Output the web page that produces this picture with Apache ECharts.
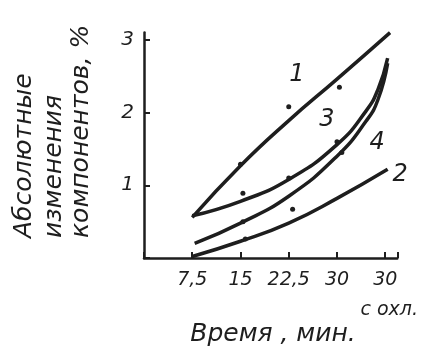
<!DOCTYPE html>
<html><head><meta charset="utf-8">
<script src="https://cdn.jsdelivr.net/npm/echarts@6/dist/echarts.min.js"></script>
<style>html,body{margin:0;padding:0;background:#fff}#c{width:422px;height:356px}</style>
</head><body><div id="c"></div>
<script>
var xTickLabels = ['', '7,5', '15', '22,5', '30', '30'];
var curve1 = [[1,0.56],[2,1.27],[3,1.89],[4,2.46],[5.1,3.1]];
var curve2 = [[1,0.02],[2,0.23],[3,0.48],[4,0.82],[5.05,1.22]];
var curve3 = [[1,0.58],[2,0.78],[3,1.08],[4,1.56],[4.6,2.02],[4.85,2.32],[5.05,2.75]];
var curve4 = [[1.05,0.2],[2,0.48],[3,0.85],[4,1.4],[4.6,1.88],[4.85,2.18],[5.05,2.68]];
var dots = [[3.0,2.08],[4.05,2.35],[2.0,1.29],[2.05,0.89],[3.08,0.67],[3.0,1.1],[4.0,1.6],[4.1,1.45],[2.05,0.5],[2.1,0.26]];
var curveLabels = [['1',3.17,2.52],['3',3.79,1.9],['4',4.83,1.58],['2',5.31,1.14]];
var yTitleLines = ['Абсолютные','изменения','компонентов, %'];
var xTitle = 'Время , мин.';
var xNote = 'с охл.';

var ink = '#1e1e1e';
var font = 'DejaVu Sans';
var chart = echarts.init(document.getElementById('c'));
function lineSeries(d){
  return {type:'line', data:d, smooth:0.5, showSymbol:false, symbol:'none',
    lineStyle:{color:ink, width:3.5}, z:3, silent:true};
}
var graphics = [];
var yx = [24, 54, 81];
yTitleLines.forEach(function(t,i){
  graphics.push({type:'text', x:yx[i], y:238, rotation:Math.PI/2,
    style:{text:t, fill:ink, font:'italic 25px "'+font+'"', textAlign:'left', textVerticalAlign:'middle'}});
});
graphics.push({type:'text', x:273, y:334, style:{text:xTitle, fill:ink, font:'italic 25px "'+font+'"', textAlign:'center', textVerticalAlign:'middle'}});
graphics.push({type:'text', x:418, y:310, style:{text:xNote, fill:ink, font:'italic 19px "'+font+'"', textAlign:'right', textVerticalAlign:'middle'}});

chart.setOption({
  backgroundColor:'#fff',
  animation:false,
  grid:{left:144, top:32.6, width:253.3, height:225.4, containLabel:false},
  xAxis:{type:'value', min:0, max:5.25, interval:1,
    axisLine:{lineStyle:{color:ink, width:2.5}},
    axisTick:{inside:true, length:6, lineStyle:{color:ink, width:2}},
    splitLine:{show:false},
    axisLabel:{color:ink, fontSize:19, fontStyle:'italic', fontFamily:font, margin:13,
      formatter:function(v){var i=Math.round(v); return (Math.abs(v-i)<1e-6 && xTickLabels[i])? xTickLabels[i] : '';}}},
  yAxis:{type:'value', min:0, max:3.1, interval:1,
    axisLine:{show:true, lineStyle:{color:ink, width:2.5}},
    axisTick:{show:true, inside:true, length:6, lineStyle:{color:ink, width:2}},
    splitLine:{show:false},
    axisLabel:{color:ink, fontSize:20, fontStyle:'italic', fontFamily:font, margin:10,
      formatter:function(v){return v===0?'':String(v);}}},
  graphic:graphics,
  series:[
    lineSeries(curve1), lineSeries(curve2), lineSeries(curve3), lineSeries(curve4),
    {type:'scatter', data:dots, symbolSize:5, itemStyle:{color:ink, opacity:1}, z:4, silent:true},
    {type:'scatter', clip:false, data:curveLabels.map(function(l){return {value:[l[1],l[2]], name:l[0]};}),
      symbolSize:0, silent:true, itemStyle:{opacity:1},
      label:{show:true, position:'inside', formatter:'{b}', color:ink, opacity:1, textBorderWidth:0, fontSize:24, fontStyle:'italic', fontFamily:font}}
  ]
});
</script></body></html>
